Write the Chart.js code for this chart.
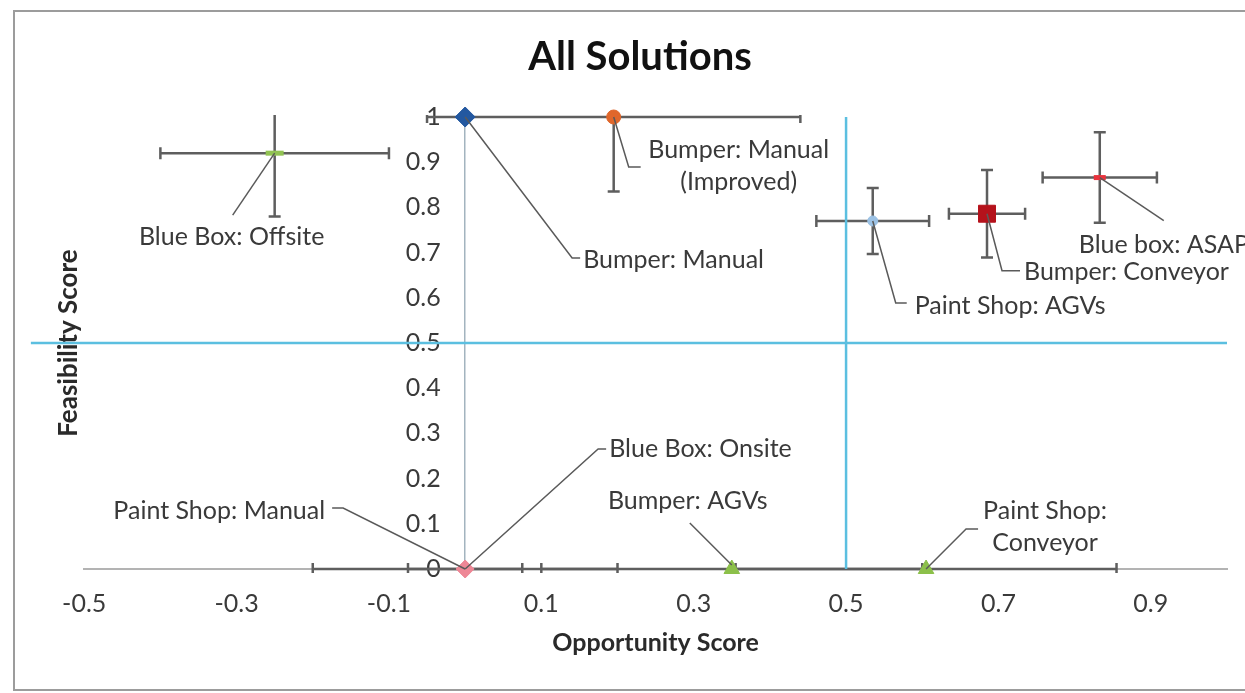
<!DOCTYPE html>
<html>
<head>
<meta charset="utf-8">
<title>All Solutions</title>
<script src="https://cdn.jsdelivr.net/npm/chart.js@4.4.0/dist/chart.umd.min.js"></script>
<style>
  html, body { margin: 0; padding: 0; background: #ffffff; }
  canvas { display: block; }
</style>
</head>
<body>
<canvas id="solutions" width="1245" height="693"></canvas>
<script>
// Solution scores: opportunity (x) and feasibility (y) with their spread
const solutions = [
  'Blue Box: Offsite', 'Bumper: Manual', 'Bumper: Manual (Improved)', 'Paint Shop: AGVs',
  'Bumper: Conveyor', 'Blue box: ASAP', 'Blue Box: Onsite', 'Paint Shop: Manual',
  'Bumper: AGVs', 'Paint Shop: Conveyor'
];
const opportunity    = [-0.25, 0,    0.195, 0.535, 0.685, 0.833, 0,     0,    0.35, 0.605];
const feasibility    = [0.92,  1,    1,     0.77,  0.786, 0.866, 0,     0,    0,    0];
const opportunityErr = [0.15,  0,    0.245, 0.074, 0.05,  0.075, 0.075, 0.2,  0.25, 0.25];
const feasibilityErr = [0.14,  0,    0.165, 0.073, 0.097, 0.1,   0,     0,    0,    0];

// Label text for each solution (one entry per line)
const calloutText = [
  ['Blue Box: Offsite'], ['Bumper: Manual'], ['Bumper: Manual', '(Improved)'], ['Paint Shop: AGVs'],
  ['Bumper: Conveyor'], ['Blue box: ASAP'], ['Blue Box: Onsite'], ['Paint Shop: Manual'],
  ['Bumper: AGVs'], ['Paint Shop:', 'Conveyor']
];

// Axis ticks
const xTickValues = [-0.5, -0.3, -0.1, 0.1, 0.3, 0.5, 0.7, 0.9];
const yTickValues = [0, 0.1, 0.2, 0.3, 0.4, 0.5, 0.6, 0.7, 0.8, 0.9, 1];

// Quadrant thresholds
const opportunityThreshold = 0.5;
const feasibilityThreshold = 0.5;
const thresholdSpanX = [-0.57, 1.0];
const thresholdSpanY = [0, 1];

// ---- styling ----
const FONT = 'Lato, "Open Sans", sans-serif';
const TEXT_COLOR = '#3a3a3a';
// the feasibility tick labels sit a little left of the vertical axis line
const yLabelColumn = -0.032;

const markerStyle = [
  { style: 'line',     r: 9,  fill: '#92c353', stroke: '#92c353', w: 5 },
  { style: 'rectRot',  r: 10, fill: '#2358a0', stroke: '#2358a0', w: 1 },
  { style: 'circle',   r: 7,  fill: '#e0672b', stroke: '#e0672b', w: 1 },
  { style: 'circle',   r: 5,  fill: '#9cc2e5', stroke: '#9cc2e5', w: 1 },
  { style: 'rect',     r: 12, fill: '#b5121b', stroke: '#b5121b', w: 1 },
  { style: 'line',     r: 6,  fill: '#e8333d', stroke: '#e8333d', w: 5 },
  { style: 'circle',   r: 4,  fill: '#4a7ebb', stroke: '#4a7ebb', w: 1 },
  { style: 'rectRot',  r: 9,  fill: '#ee8796', stroke: '#ee8796', w: 1 },
  { style: 'triangle', r: 9,  fill: '#8cc04a', stroke: '#8cc04a', w: 1 },
  { style: 'triangle', r: 9,  fill: '#8cc04a', stroke: '#8cc04a', w: 1 }
];

// Label placement relative to each marker, in pixels: text anchor + leader path
const calloutLayout = [
  { dx: -43, dy: 84,  align: 'center', leader: [[0, 0], [-42, 62]] },
  { dx: 118, dy: 143, align: 'left',   leader: [[0, 0], [107, 141], [115, 141]] },
  { dx: 125, dy: 33,  align: 'center', leader: [[0, 0], [15, 50], [27, 50]] },
  { dx: 42,  dy: 85,  align: 'left',   leader: [[0, 0], [23, 82], [34, 82]] },
  { dx: 37,  dy: 58,  align: 'left',   leader: [[0, 0], [15, 57], [33, 57]] },
  { dx: -21, dy: 67,  align: 'left',   leader: [[0, 0], [64, 43]] },
  { dx: 144, dy: -120, align: 'left',  leader: [[0, 0], [133, -120], [141, -120]] },
  { dx: -140, dy: -58, align: 'right', leader: [[0, 0], [-122, -61], [-133, -61]] },
  { dx: -44, dy: -68, align: 'center', leader: [[0, -4], [-42, -46]] },
  { dx: 119, dy: -58, align: 'center', leader: [[0, 0], [40, -40], [52, -40]] }
];

const framePlugin = {
  id: 'frame',
  beforeDraw(chart) {
    const ctx = chart.ctx;
    ctx.save();
    ctx.fillStyle = '#ffffff';
    ctx.fillRect(0, 0, chart.width, chart.height);
    ctx.strokeStyle = '#9c9c9c';
    ctx.lineWidth = 2;
    ctx.strokeRect(14, 11, chart.width + 20, chart.height - 14);
    ctx.restore();
  }
};

const errorBarPlugin = {
  id: 'errorBars',
  beforeDatasetsDraw(chart) {
    const { ctx, chartArea, scales: { x, y } } = chart;
    const cap = 6;
    ctx.save();
    ctx.beginPath();
    ctx.rect(0, chartArea.top - 2, chart.width, chartArea.bottom - chartArea.top + 6);
    ctx.clip();
    ctx.strokeStyle = '#5e5e5e';
    ctx.lineWidth = 2.5;
    ctx.lineCap = 'butt';
    opportunity.forEach((ov, i) => {
      const fv = feasibility[i];
      const px = x.getPixelForValue(ov);
      const py = y.getPixelForValue(fv);
      const ex = opportunityErr[i];
      const ey = feasibilityErr[i];
      ctx.beginPath();
      if (ex > 0) {
        const x1 = x.getPixelForValue(ov - ex);
        const x2 = x.getPixelForValue(ov + ex);
        ctx.moveTo(x1, py); ctx.lineTo(x2, py);
        ctx.moveTo(x1, py - cap); ctx.lineTo(x1, py + cap);
        ctx.moveTo(x2, py - cap); ctx.lineTo(x2, py + cap);
      }
      if (ey > 0) {
        const y1 = y.getPixelForValue(fv + ey);
        const y2 = y.getPixelForValue(fv - ey);
        ctx.moveTo(px, y1); ctx.lineTo(px, y2);
        ctx.moveTo(px - cap, y1); ctx.lineTo(px + cap, y1);
        ctx.moveTo(px - cap, y2); ctx.lineTo(px + cap, y2);
      }
      ctx.stroke();
    });
    ctx.restore();
  }
};

const calloutPlugin = {
  id: 'callouts',
  afterDatasetsDraw(chart) {
    const { ctx, scales: { x, y } } = chart;
    ctx.save();
    ctx.font = '25px ' + FONT;
    ctx.fillStyle = TEXT_COLOR;
    ctx.textBaseline = 'middle';
    ctx.strokeStyle = '#5a5a5a';
    ctx.lineWidth = 1.5;
    calloutLayout.forEach((c, i) => {
      const px = x.getPixelForValue(opportunity[i]);
      const py = y.getPixelForValue(feasibility[i]);
      ctx.beginPath();
      c.leader.forEach(([lx, ly], k) => {
        if (k === 0) ctx.moveTo(px + lx, py + ly); else ctx.lineTo(px + lx, py + ly);
      });
      ctx.stroke();
      ctx.textAlign = c.align;
      calloutText[i].forEach((line, k) => {
        ctx.fillText(line, px + c.dx, py + c.dy + k * 32);
      });
    });
    ctx.restore();
  }
};

const tickFormat = (v) => String(Math.round(v * 10) / 10);

new Chart(document.getElementById('solutions'), {
  type: 'scatter',
  data: {
    datasets: [
      {
        label: 'Solutions',
        data: opportunity.map((v, i) => ({ x: v, y: feasibility[i] })),
        pointStyle: markerStyle.map(m => m.style),
        pointRadius: markerStyle.map(m => m.r),
        backgroundColor: markerStyle.map(m => m.fill),
        borderColor: markerStyle.map(m => m.stroke),
        pointBorderWidth: markerStyle.map(m => m.w),
        clip: false
      },
      {
        type: 'line',
        label: 'Opportunity threshold',
        data: thresholdSpanY.map(v => ({ x: opportunityThreshold, y: v })),
        borderColor: '#5bbfe0',
        borderWidth: 2.5,
        pointRadius: 0,
        clip: false
      },
      {
        type: 'line',
        label: 'Feasibility threshold',
        data: thresholdSpanX.map(v => ({ x: v, y: feasibilityThreshold })),
        borderColor: '#5bbfe0',
        borderWidth: 2.5,
        pointRadius: 0,
        clip: false
      }
    ]
  },
  options: {
    responsive: false,
    animation: false,
    layout: { padding: { left: 53, right: 18, top: 10, bottom: 30 } },
    plugins: {
      legend: { display: false },
      tooltip: { enabled: false },
      title: {
        display: true,
        text: 'All Solutions',
        color: '#111111',
        font: { family: FONT, size: 40, weight: 'bold' },
        padding: { top: 23, bottom: 36 }
      }
    },
    scales: {
      x: {
        type: 'linear',
        position: 'bottom',
        min: -0.5,
        max: 1.0,
        afterBuildTicks: (scale) => { scale.ticks = xTickValues.map(v => ({ value: v })); },
        grid: { display: false, drawTicks: false },
        border: { color: '#b3b3b3', width: 2 },
        ticks: {
          padding: 20,
          color: TEXT_COLOR,
          font: { family: FONT, size: 25 },
          maxRotation: 0,
          autoSkip: false,
          callback: tickFormat
        },
        title: {
          display: true,
          text: 'Opportunity Score',
          color: '#2a2a2a',
          font: { family: FONT, size: 25, weight: 'bold' },
          padding: { top: -11, bottom: 5 }
        }
      },
      // vertical axis line through opportunity = 0
      y: {
        type: 'linear',
        position: { x: 0 },
        min: 0,
        max: 1,
        afterBuildTicks: (scale) => { scale.ticks = yTickValues.map(v => ({ value: v })); },
        grid: { display: false, drawTicks: false },
        border: { color: '#a3b4bf', width: 1.5 },
        ticks: { display: false }
      },
      // its tick labels
      yLabels: {
        type: 'linear',
        position: { x: yLabelColumn },
        min: 0,
        max: 1,
        afterBuildTicks: (scale) => { scale.ticks = yTickValues.map(v => ({ value: v })); },
        grid: { display: false, drawTicks: false },
        border: { display: false },
        ticks: {
          color: TEXT_COLOR,
          font: { family: FONT, size: 25 },
          autoSkip: false,
          callback: tickFormat
        }
      },
      yTitle: {
        type: 'linear',
        position: 'left',
        min: 0,
        max: 1,
        grid: { display: false, drawTicks: false },
        border: { display: false },
        ticks: { display: false },
        title: {
          display: true,
          text: 'Feasibility Score',
          color: '#2a2a2a',
          font: { family: FONT, size: 26, weight: 'bold' },
          padding: 0
        }
      }
    }
  },
  plugins: [framePlugin, errorBarPlugin, calloutPlugin]
});
</script>
</body>
</html>
